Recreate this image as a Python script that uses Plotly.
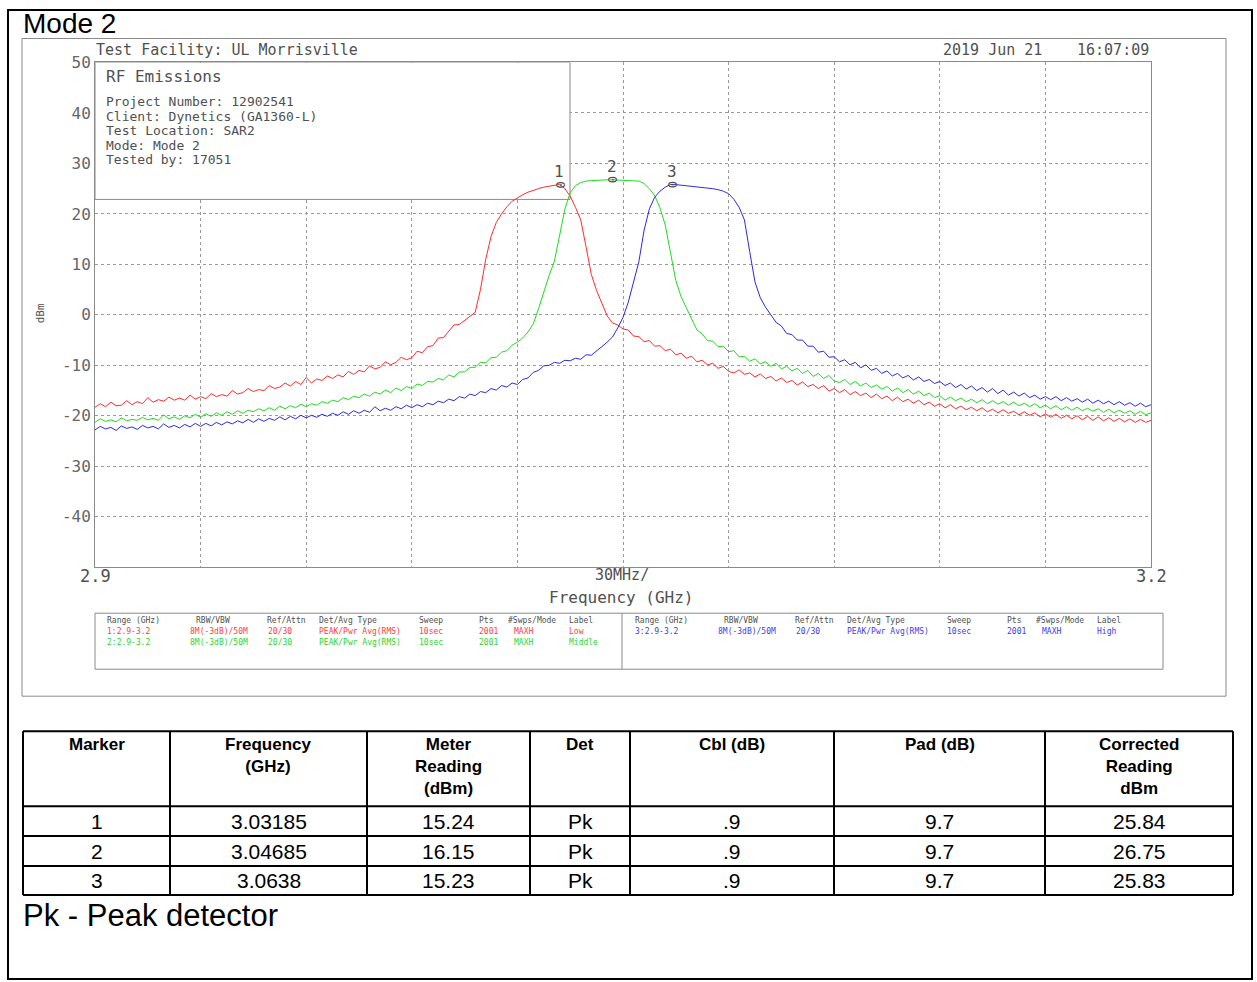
import numpy as np
import plotly.graph_objects as go

W, H = 1257, 982

# ---- sweep settings (2001-pt analyzer sweep, read back at a coarser step) ----
FREQ_START_GHZ = 2.9
FREQ_STOP_GHZ = 3.2

# Max-hold traces, dBm (corrected), one value per sweep point
low_dbm = [
    -18.3, -17.6, -18.2, -17.3, -18.0, -17.9, -17.0, -17.8, -17.2, -17.6,
    -16.4, -17.3, -16.8, -17.1, -16.3, -16.9, -16.5, -16.9, -15.9, -16.7,
    -16.2, -16.6, -15.6, -16.2, -15.8, -16.1, -15.0, -15.7, -15.4, -14.6,
    -15.2, -14.8, -15.0, -14.0, -14.6, -14.3, -13.5, -14.1, -13.2, -13.8,
    -12.4, -13.5, -12.7, -13.0, -12.1, -12.6, -11.9, -12.3, -11.2, -11.8,
    -11.0, -11.3, -10.1, -10.7, -10.4, -9.3, -9.9, -9.4, -8.4, -8.9,
    -8.5, -7.2, -7.5, -6.3, -6.1, -4.6, -4.5, -3.3, -2.0, -1.9,
    -1.1, -0.4, 0.5, 5.0, 11.0, 15.5, 18.3, 20.0, 21.4, 22.5,
    23.2, 23.8, 24.3, 24.7, 25.0, 25.3, 25.5, 25.7, 25.84, 25.0,
    23.5, 21.3, 18.8, 13.5, 8.0, 4.8, 2.3, -0.2, -1.6, -2.0,
    -2.8, -3.0, -4.2, -4.3, -5.3, -5.1, -6.2, -6.1, -7.1, -6.8,
    -7.9, -7.6, -8.6, -8.2, -9.3, -9.0, -9.9, -9.6, -10.6, -10.2,
    -11.2, -11.5, -10.9, -11.8, -11.5, -12.3, -11.7, -12.6, -12.2, -13.1,
    -12.5, -13.4, -13.0, -13.9, -13.3, -14.2, -13.8, -14.6, -14.0, -15.1,
    -14.6, -15.4, -14.8, -15.8, -15.2, -16.0, -15.5, -16.4, -15.7, -16.6,
    -16.1, -17.0, -16.3, -17.2, -16.7, -17.5, -16.9, -17.8, -17.3, -18.1,
    -17.6, -18.4, -17.8, -18.6, -18.1, -18.8, -18.3, -19.0, -18.4, -19.2,
    -18.7, -19.4, -18.8, -19.5, -19.1, -19.8, -19.2, -19.9, -19.4, -20.2,
    -19.6, -20.3, -19.7, -20.5, -19.9, -20.6, -20.0, -20.8, -20.1, -20.9,
    -20.2, -21.0, -20.4, -21.1, -20.5, -21.2, -20.6, -21.3, -20.7, -21.3,
    -20.9,
]

mid_dbm = [
    -21.3, -20.6, -21.1, -20.8, -21.2, -20.4, -21.0, -20.7, -20.9, -20.3,
    -20.8, -20.5, -20.9, -19.8, -20.6, -20.2, -20.7, -20.0, -20.4, -19.7,
    -20.3, -19.6, -20.1, -19.4, -19.9, -19.2, -19.7, -19.0, -19.5, -18.9,
    -19.2, -18.6, -19.0, -18.4, -18.9, -18.1, -18.6, -18.0, -18.4, -17.7,
    -18.2, -17.6, -17.9, -17.2, -17.5, -16.9, -17.2, -16.4, -16.8, -16.1,
    -16.4, -15.7, -16.1, -15.3, -15.7, -14.9, -15.4, -14.5, -15.0, -14.2,
    -14.6, -13.7, -14.0, -13.2, -13.3, -12.6, -12.9, -11.9, -12.3, -11.3,
    -11.3, -10.4, -10.4, -9.4, -9.5, -8.5, -8.4, -7.4, -7.1, -6.0,
    -5.4, -4.6, -3.4, -1.8, 1.2, 4.5, 7.8, 10.6, 15.5, 21.0,
    24.2, 25.6, 26.2, 26.5, 26.6, 26.7, 26.7, 26.75, 26.75, 26.7,
    26.7, 26.7, 26.6, 26.5, 26.0, 25.0, 23.6, 21.2, 17.8, 12.0,
    6.8, 3.6, 1.3, -1.0, -3.0, -3.8, -5.1, -5.2, -6.3, -6.2,
    -7.3, -7.1, -8.3, -8.2, -9.2, -8.7, -9.7, -9.3, -10.2, -9.6,
    -10.7, -10.2, -11.1, -10.6, -11.6, -11.0, -12.2, -11.6, -12.6, -12.0,
    -13.1, -13.4, -12.8, -13.8, -13.2, -14.1, -13.5, -14.4, -13.9, -14.7,
    -14.2, -15.1, -14.5, -15.4, -14.8, -15.7, -15.1, -16.0, -15.5, -16.4,
    -16.0, -16.9, -16.3, -17.0, -16.5, -17.2, -16.7, -17.4, -16.8, -17.6,
    -17.0, -17.7, -17.2, -17.9, -17.3, -18.0, -17.5, -18.2, -17.6, -18.4,
    -17.9, -18.6, -18.0, -18.8, -18.2, -18.9, -18.3, -19.0, -18.5, -19.1,
    -18.6, -19.3, -18.7, -19.4, -18.9, -19.5, -19.0, -19.7, -19.1, -19.8,
    -19.4,
]

high_dbm = [
    -22.8, -22.1, -22.6, -22.3, -22.9, -22.0, -22.5, -22.2, -22.7, -21.9,
    -22.4, -22.1, -22.6, -21.6, -22.3, -21.9, -22.4, -21.7, -22.2, -21.5,
    -22.1, -21.5, -22.0, -21.3, -21.8, -21.2, -21.6, -21.0, -21.4, -20.7,
    -21.3, -20.6, -21.1, -20.5, -20.9, -20.2, -20.8, -20.1, -20.6, -19.9,
    -20.4, -19.9, -20.3, -19.7, -20.1, -19.5, -19.9, -19.2, -19.7, -19.0,
    -19.5, -18.9, -19.3, -18.2, -19.0, -18.5, -18.9, -18.2, -18.6, -17.9,
    -18.4, -17.8, -18.2, -17.5, -17.8, -17.1, -17.4, -16.7, -17.0, -16.2,
    -16.5, -15.7, -16.0, -15.2, -15.4, -14.6, -14.9, -14.0, -14.3, -13.5,
    -13.8, -12.8, -12.5, -11.4, -11.0, -10.1, -10.0, -9.4, -9.6, -9.0,
    -9.1, -8.6, -8.8, -7.9, -8.0, -7.2, -6.3, -5.4, -4.4, -2.6,
    -0.5, 2.5, 6.4, 10.5, 16.8, 21.0, 23.3, 24.5, 25.3, 25.83,
    25.8, 25.7, 25.6, 25.5, 25.4, 25.3, 25.2, 25.0, 24.8, 24.5,
    24.0, 22.9, 21.3, 18.8, 12.5, 6.5, 3.4, 1.5, 0.0, -1.5,
    -2.2, -3.7, -3.9, -5.0, -5.0, -6.2, -6.2, -7.4, -7.2, -8.4,
    -8.3, -9.3, -8.9, -9.9, -9.4, -10.5, -9.9, -11.0, -10.6, -11.6,
    -11.1, -12.1, -11.6, -12.5, -12.0, -12.9, -12.3, -13.2, -12.8, -13.6,
    -13.2, -14.0, -13.5, -14.4, -13.8, -14.7, -14.1, -15.0, -14.4, -15.3,
    -14.6, -15.6, -14.9, -15.9, -15.3, -16.1, -15.5, -16.4, -15.9, -16.7,
    -16.2, -16.8, -16.2, -17.0, -16.4, -17.1, -16.6, -17.3, -16.7, -17.5,
    -16.9, -17.6, -17.1, -17.8, -17.2, -17.9, -17.4, -18.1, -17.5, -18.2,
    -17.8,
]

# ---- marker table ----
marker_ids = ["1", "2", "3"]
marker_freq_ghz = [3.03185, 3.04685, 3.0638]
meter_reading_dbm = [15.24, 16.15, 15.23]
detector = ["Pk", "Pk", "Pk"]
cable_loss_db = [0.9, 0.9, 0.9]
pad_db = [9.7, 9.7, 9.7]
corrected_dbm = [25.84, 26.75, 25.83]

table_headers = ["Marker", "Frequency<br>(GHz)", "Meter<br>Reading<br>(dBm)", "Det",
                 "Cbl (dB)", "Pad (dB)", "Corrected<br>Reading<br>dBm"]

# ---- axis ticks ----
y_tick_vals = [50, 40, 30, 20, 10, 0, -10, -20, -30, -40]
y_tick_text = ["50", "40", "30", "20", "10", "0", "-10", "-20", "-30", "-40"]

# ---- trace setup block ----
setup_headers = ["Range (GHz)", "RBW/VBW", "Ref/Attn", "Det/Avg Type", "Sweep", "Pts",
                 "#Swps/Mode", "Label"]
setup_rows = [
    ["1:2.9-3.2", "8M(-3dB)/50M", "20/30", "PEAK/Pwr Avg(RMS)", "10sec", "2001", "MAXH", "Low"],
    ["2:2.9-3.2", "8M(-3dB)/50M", "20/30", "PEAK/Pwr Avg(RMS)", "10sec", "2001", "MAXH", "Middle"],
    ["3:2.9-3.2", "8M(-3dB)/50M", "20/30", "PEAK/Pwr Avg(RMS)", "10sec", "2001", "MAXH", "High"],
]

info_lines = ["Project Number: 12902541", "Client: Dynetics (GA1360-L)",
              "Test Location: SAR2", "Mode: Mode 2", "Tested by: 17051"]

TRACE_COLORS = ["#ff2b2b", "#1fdc1f", "#2a2ae8"]
TEXT_COLORS = ["#ff4040", "#2fd42f", "#3c3cf0"]
GRAY = "#8a8a8a"
INK = "#505050"
MONO = "DejaVu Sans Mono"
SANS = "Liberation Sans, Arial"

# page placement: the figure lands slightly lower and shorter than its nominal size
# in the viewer, so pixel positions are mapped through this offset/scale
Y_OFF = 8.5
Y_SCALE = 0.9913


def px(x):
    return x / W


def py(y):
    return 1 - ((y - Y_OFF) / Y_SCALE) / H


# plot area in pixels
PL, PR, PT, PB = 95, 1151, 62, 567

fig = go.Figure()

for vals, color, name in zip([low_dbm, mid_dbm, high_dbm], TRACE_COLORS, ["Low", "Middle", "High"]):
    freq = np.linspace(FREQ_START_GHZ, FREQ_STOP_GHZ, len(vals))
    fig.add_trace(go.Scatter(x=freq, y=vals, mode="lines", name=name,
                             line=dict(color=color, width=1), showlegend=False,
                             hoverinfo="skip"))

annotations = []
shapes = []

# marker symbols and numbers at the marker readings
for mid, f, v in zip(marker_ids, marker_freq_ghz, corrected_dbm):
    annotations.append(dict(xref="x", yref="y", x=f, y=v, text="0", textangle=90,
                            showarrow=False, font=dict(family=MONO, size=12, color=INK),
                            xanchor="center", yanchor="middle"))
    annotations.append(dict(xref="x", yref="y", x=f, y=v, text=mid, yshift=13,
                            showarrow=False, font=dict(family=MONO, size=16, color=INK),
                            xanchor="center", yanchor="middle"))

# info box inside the plot
shapes.append(dict(type="rect", xref="x", yref="y", layer="between",
                   x0=FREQ_START_GHZ, x1=FREQ_START_GHZ + (570 - PL) / (PR - PL) * 0.3,
                   y0=50 - (199 - PT) / (PB - PT) * 100, y1=50,
                   fillcolor="white", line=dict(color=GRAY, width=1)))
annotations.append(dict(xref="paper", yref="paper", x=px(104), y=py(76), text="RF Emissions",
                        showarrow=False, xanchor="left", yanchor="middle",
                        font=dict(family=MONO, size=16, color=INK)))
for k, line in enumerate(info_lines):
    annotations.append(dict(xref="paper", yref="paper", x=px(104), y=py(101 + k * 14.6),
                            text=line, showarrow=False, xanchor="left", yanchor="middle",
                            font=dict(family=MONO, size=13, color=INK)))

# header lines above the plot
annotations += [
    dict(xref="paper", yref="paper", x=px(94), y=py(50), text="Test Facility: UL Morrisville",
         showarrow=False, xanchor="left", yanchor="middle", font=dict(family=MONO, size=15, color=INK)),
    dict(xref="paper", yref="paper", x=px(1044), y=py(50), text="2019 Jun 21",
         showarrow=False, xanchor="right", yanchor="middle", font=dict(family=MONO, size=15, color=INK)),
    dict(xref="paper", yref="paper", x=px(1151), y=py(50), text="16:07:09",
         showarrow=False, xanchor="right", yanchor="middle", font=dict(family=MONO, size=15, color=INK)),
]

# x-axis texts
annotations += [
    dict(xref="x", yref="paper", x=FREQ_START_GHZ, y=py(576), text="2.9", showarrow=False,
         xanchor="center", yanchor="middle", font=dict(family=MONO, size=17, color=INK)),
    dict(xref="x", yref="paper", x=FREQ_STOP_GHZ, y=py(576), text="3.2", showarrow=False,
         xanchor="center", yanchor="middle", font=dict(family=MONO, size=17, color=INK)),
    dict(xref="paper", yref="paper", x=px(622), y=py(575), text="30MHz/", showarrow=False,
         xanchor="center", yanchor="middle", font=dict(family=MONO, size=15, color=INK)),
    dict(xref="paper", yref="paper", x=px(621), y=py(597), text="Frequency (GHz)", showarrow=False,
         xanchor="center", yanchor="middle", font=dict(family=MONO, size=16, color=INK)),
    dict(xref="paper", yref="paper", x=px(40), y=py(313), text="dBm", textangle=-90, showarrow=False,
         xanchor="center", yanchor="middle", font=dict(family=MONO, size=11, color=INK)),
]

# title
annotations.append(dict(xref="paper", yref="paper", x=px(21), y=py(23), text="Mode 2",
                        showarrow=False, xanchor="left", yanchor="middle",
                        font=dict(family=SANS, size=28, color="black")))

# trace setup block
shapes.append(dict(type="rect", xref="paper", yref="paper", x0=px(95), x1=px(1163),
                   y0=py(669), y1=py(613), line=dict(color=GRAY, width=1)))
shapes.append(dict(type="line", xref="paper", yref="paper", x0=px(622), x1=px(622),
                   y0=py(669), y1=py(613), line=dict(color=GRAY, width=1)))
head_x = [105, 194, 265, 317, 417, 477, 506, 567]
data_x = [105, 188, 266, 317, 417, 477, 512, 567]
HALF_SHIFT = 528
for half in (0, 1):
    for hx, htxt in zip(head_x, setup_headers):
        annotations.append(dict(xref="paper", yref="paper", x=px(hx + half * HALF_SHIFT), y=py(620),
                                text=htxt, showarrow=False, xanchor="left", yanchor="middle",
                                font=dict(family=MONO, size=8, color=INK)))
row_slots = [(0, 631), (0, 642), (1, 631)]
for (half, ry), row, col in zip(row_slots, setup_rows, TEXT_COLORS):
    for dx, cell in zip(data_x, row):
        annotations.append(dict(xref="paper", yref="paper", x=px(dx + half * HALF_SHIFT), y=py(ry),
                                text=cell, showarrow=False, xanchor="left", yanchor="middle",
                                font=dict(family=MONO, size=8, color=col)))

# frames
shapes.append(dict(type="rect", xref="paper", yref="paper", x0=px(22), x1=px(1226),
                   y0=py(696), y1=py(38), line=dict(color=GRAY, width=1)))
shapes.append(dict(type="rect", xref="paper", yref="paper", x0=px(8), x1=px(1252),
                   y0=py(979), y1=py(9.5), line=dict(color="black", width=2)))

# marker table
col_edges = [23, 170, 367, 530, 630, 834, 1045, 1233]
row_edges = [731, 806, 836, 866, 895]
for xe in col_edges:
    shapes.append(dict(type="line", xref="paper", yref="paper", x0=px(xe), x1=px(xe),
                       y0=py(row_edges[-1]), y1=py(row_edges[0]), line=dict(color="black", width=2)))
for ye in row_edges:
    shapes.append(dict(type="line", xref="paper", yref="paper", x0=px(col_edges[0]), x1=px(col_edges[-1]),
                       y0=py(ye), y1=py(ye), line=dict(color="black", width=2)))
centers = [(a + b) / 2 for a, b in zip(col_edges[:-1], col_edges[1:])]
for cx, htxt in zip(centers, table_headers):
    annotations.append(dict(xref="paper", yref="paper", x=px(cx), y=py(733), text="<b>%s</b>" % htxt,
                            showarrow=False, xanchor="center", yanchor="top", align="center",
                            font=dict(family=SANS, size=17, color="black")))


def fmt_cbl(v):
    s = "%g" % v
    return s[1:] if s.startswith("0.") else s


table_rows = []
for i in range(len(marker_ids)):
    table_rows.append([marker_ids[i], "%g" % marker_freq_ghz[i], "%g" % meter_reading_dbm[i],
                       detector[i], fmt_cbl(cable_loss_db[i]), "%g" % pad_db[i],
                       "%g" % corrected_dbm[i]])
for r, row in enumerate(table_rows):
    cy = (row_edges[r + 1] + row_edges[r + 2]) / 2
    for cx, cell in zip(centers, row):
        annotations.append(dict(xref="paper", yref="paper", x=px(cx), y=py(cy), text=cell,
                                showarrow=False, xanchor="center", yanchor="middle",
                                font=dict(family=SANS, size=21, color="black")))

annotations.append(dict(xref="paper", yref="paper", x=px(21), y=py(915), text="Pk - Peak detector",
                        showarrow=False, xanchor="left", yanchor="middle",
                        font=dict(family=SANS, size=31, color="black")))

fig.update_layout(
    width=W, height=H, autosize=False,
    margin=dict(l=0, r=0, t=0, b=0),
    paper_bgcolor="white", plot_bgcolor="white",
    showlegend=False,
    xaxis=dict(domain=[px(PL), px(PR)], range=[FREQ_START_GHZ, FREQ_STOP_GHZ],
               tick0=FREQ_START_GHZ, dtick=0.03, showticklabels=False, ticks="",
               showgrid=True, gridcolor="#9a9a9a", griddash="dot", gridwidth=1,
               showline=True, linecolor=GRAY, linewidth=1, mirror=True, zeroline=False),
    yaxis=dict(domain=[py(PB), py(PT)], range=[-50, 50],
               tickmode="array", tickvals=y_tick_vals, ticktext=y_tick_text,
               tickfont=dict(family=MONO, size=16, color="#666666"), ticks="",
               showgrid=True, gridcolor="#9a9a9a", griddash="dot", gridwidth=1,
               showline=True, linecolor=GRAY, linewidth=1, mirror=True, zeroline=False),
    shapes=shapes,
    annotations=annotations,
)

fig.write_html("out.html")
